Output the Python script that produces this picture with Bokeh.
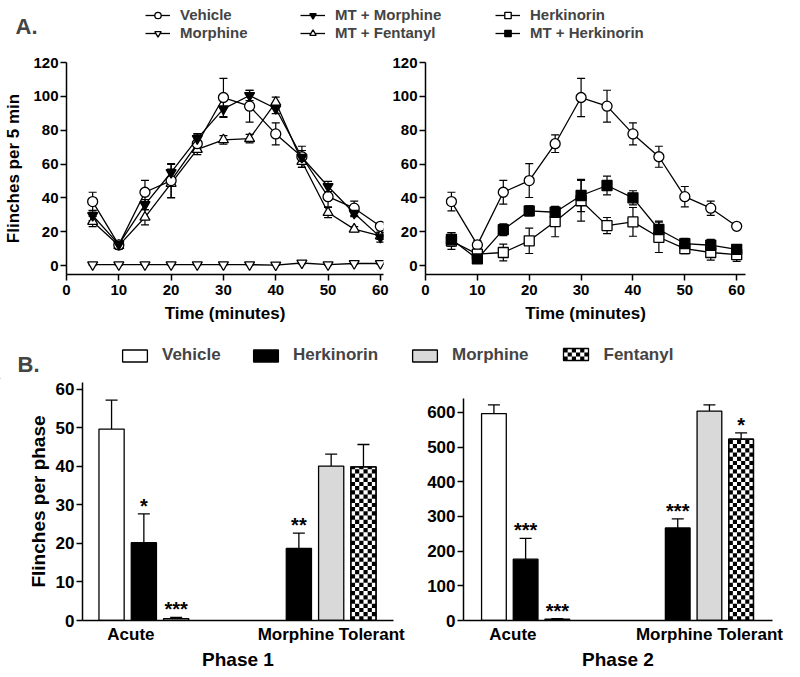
import math
from bokeh.plotting import figure
from bokeh.models import (Range1d, Legend, LegendItem, Label, Whisker, TeeHead,
                          ColumnDataSource, FixedTicker)
from bokeh.layouts import column, row
from bokeh.embed import file_html
from bokeh.resources import INLINE
from bokeh.core.properties import value

FONT = "Liberation Sans"

# ---------------- Panel A data (flinches per 5 min) ----------------
time_min = [5, 10, 15, 20, 25, 30, 35, 40, 45, 50, 55, 60]
vehicle = [37.8, 12.2, 43.3, 50.2, 72.0, 99.3, 94.2, 77.8, 64.3, 40.7, 33.9, 23.2]
vehicle_err = [5.5, 2.5, 7.0, 10.0, 5.2, 11.3, 9.4, 6.5, 6.2, 6.0, 4.2, 1.2]
morphine = [0.5, 0.5, 0.5, 0.5, 0.5, 0.5, 0.5, 0.3, 1.5, 0.5, 1.2, 1.2]
morphine_err = [0.3, 0.3, 0.3, 0.3, 0.3, 0.3, 0.3, 0.2, 0.5, 0.3, 0.4, 0.4]
mt_morphine = [29.6, 12.5, 36.0, 55.0, 75.0, 92.6, 100.5, 92.8, 64.0, 46.7, 30.9, 16.8]
mt_morphine_err = [3.0, 2.0, 3.0, 4.7, 3.0, 5.0, 3.0, 3.0, 4.0, 3.0, 2.0, 3.0]
mt_fentanyl = [26.0, 11.8, 28.5, 48.5, 68.6, 74.3, 75.0, 96.5, 61.5, 31.3, 21.5, 17.5]
mt_fentanyl_err = [3.0, 2.0, 4.5, 8.5, 3.0, 2.5, 2.5, 3.0, 3.5, 3.0, 1.5, 2.0]
herkinorin = [14.5, 6.7, 7.7, 14.6, 26.0, 38.3, 23.6, 25.8, 16.7, 10.0, 7.7, 6.5]
herkinorin_err = [5.0, 2.0, 5.0, 7.5, 9.0, 12.0, 4.8, 8.5, 9.0, 3.0, 4.5, 4.0]
mt_herkinorin = [15.5, 3.9, 21.2, 32.3, 31.5, 41.4, 47.3, 40.0, 21.3, 13.0, 12.0, 9.6]
mt_herkinorin_err = [4.0, 1.5, 3.5, 3.0, 3.0, 9.5, 5.5, 4.2, 5.0, 3.0, 3.5, 2.0]

# ---------------- Panel B data (flinches per phase) ----------------
bar_group = ["Acute", "Acute", "Acute", "Morphine Tolerant", "Morphine Tolerant", "Morphine Tolerant"]
bar_drug = ["Vehicle", "Herkinorin", "Morphine", "Herkinorin", "Morphine", "Fentanyl"]
phase1_mean = [49.7, 20.2, 0.5, 18.7, 40.1, 39.9]
phase1_sem = [7.5, 7.5, 0.3, 4.0, 3.1, 5.8]
phase1_sig = ["", "*", "***", "**", "", ""]
phase2_mean = [597, 177, 4, 267, 604, 523]
phase2_sem = [25, 60, 1, 26, 18, 18]
phase2_sig = ["", "***", "***", "***", "", "*"]

group_offset = {"Acute": 0.0, "Morphine Tolerant": 4.8}
drug_slot = {"Vehicle": 0, "Herkinorin": 1, "Morphine": 2, "Fentanyl": 3}
drug_fill = {"Vehicle": "white", "Herkinorin": "black", "Morphine": "#d9d9d9", "Fentanyl": "white"}

BAR_W = 0.78
CELL_PX = 4.2          # checkerboard cell size in pixels
B_FRAME_H = 238        # frame height of the B panels in pixels


def style_axes(p, tick_px, label_px, label_standoff=6):
    for ax in p.axis:
        ax.axis_line_width = 1.5
        ax.axis_line_color = "black"
        ax.major_tick_line_width = 1.5
        ax.major_tick_out = 6
        ax.major_tick_in = 0
        ax.minor_tick_line_color = None
        ax.major_label_text_font = FONT
        ax.major_label_text_font_style = "bold"
        ax.major_label_text_font_size = tick_px
        ax.major_label_text_color = "black"
        ax.major_label_standoff = 2
        ax.axis_label_text_font = FONT
        ax.axis_label_text_font_style = "bold"
        ax.axis_label_text_font_size = label_px
        ax.axis_label_text_color = "black"
        ax.axis_label_standoff = label_standoff
    p.grid.visible = False
    p.outline_line_color = None


def make_line_panel(width, height, borders, xmax, ylabel):
    p = figure(width=width, height=height, output_backend="svg", toolbar_location=None,
               x_range=Range1d(0, xmax), y_range=Range1d(-5.3, 120))
    p.min_border_left, p.min_border_right, p.min_border_top, p.min_border_bottom = borders
    p.xaxis.ticker = FixedTicker(ticks=[0, 10, 20, 30, 40, 50, 60])
    p.yaxis.ticker = FixedTicker(ticks=[0, 20, 40, 60, 80, 100, 120])
    p.xaxis.axis_label = "Time (minutes)"
    if ylabel:
        p.yaxis.axis_label = ylabel
    style_axes(p, "15px", "17px", 7)
    p.xaxis.major_label_standoff = 4
    p.xaxis.axis_label_standoff = 6
    return p


def add_series(p, y, err, marker, fill):
    src = ColumnDataSource(dict(x=time_min, y=y,
                                lo=[a - b for a, b in zip(y, err)],
                                hi=[a + b for a, b in zip(y, err)]))
    w = Whisker(source=src, base="x", lower="lo", upper="hi", level="underlay",
                line_color="black", line_width=1.2,
                upper_head=TeeHead(size=8, line_width=1.2, line_color="black"),
                lower_head=TeeHead(size=8, line_width=1.2, line_color="black"))
    p.add_layout(w)
    p.line("x", "y", source=src, line_color="black", line_width=1.3)
    p.scatter("x", "y", source=src, marker=marker, size=10, fill_color=fill,
              line_color="black", line_width=1.3)


def blank_fig(width, height):
    f = figure(width=width, height=height, output_backend="svg", toolbar_location=None,
               x_range=Range1d(0, width), y_range=Range1d(0, height),
               x_axis_location=None, y_axis_location=None)
    f.min_border_left = f.min_border_right = f.min_border_top = f.min_border_bottom = 0
    f.outline_line_color = None
    f.grid.visible = False
    f.xgrid.visible = False
    f.ygrid.visible = False
    return f


# ---------------- Legend A ----------------
legA = blank_fig(800, 48)
legA.add_layout(Label(x=26, y=22, text="A.", text_font=FONT, text_font_style="bold",
                      text_font_size="22px", text_align="center", text_baseline="middle"))


def dummy_line_item(p, label, marker, fill):
    l = p.line(x=[-100, -90], y=[-100, -100], line_color="black", line_width=1.3)
    s = p.scatter(x=[-100], y=[-100], marker=marker, size=10, fill_color=fill,
                  line_color="black", line_width=1.3)
    return LegendItem(label=label, renderers=[l, s])


series_specs = [
    [("Vehicle", "circle", "white"), ("Morphine", "inverted_triangle", "white")],
    [("MT + Morphine", "inverted_triangle", "black"), ("MT + Fentanyl", "triangle", "white")],
    [("Herkinorin", "square", "white"), ("MT + Herkinorin", "square", "black")],
]
legA_x = [145, 300, 495]
for specs, lx in zip(series_specs, legA_x):
    items = [dummy_line_item(legA, *s) for s in specs]
    lg = Legend(items=items, location=(lx, 7), orientation="vertical",
                glyph_width=25, glyph_height=16, label_height=16, spacing=1,
                label_standoff=10, padding=0, margin=0,
                border_line_color=None, background_fill_alpha=0,
                label_text_font=FONT, label_text_font_style="bold", label_text_font_size="15px")
    legA.add_layout(lg)

# ---------------- Panels A ----------------
pA1 = make_line_panel(389, 282, (66, 6, 14, 56), 60.6, "Flinches per 5 min")
add_series(pA1, morphine, morphine_err, "inverted_triangle", "white")
add_series(pA1, mt_fentanyl, mt_fentanyl_err, "triangle", "white")
add_series(pA1, vehicle, vehicle_err, "circle", "white")
add_series(pA1, mt_morphine, mt_morphine_err, "inverted_triangle", "black")

pA2 = make_line_panel(411, 282, (34, 55, 14, 56), 61.7, None)
add_series(pA2, vehicle, vehicle_err, "circle", "white")
add_series(pA2, herkinorin, herkinorin_err, "square", "white")
add_series(pA2, mt_herkinorin, mt_herkinorin_err, "square", "black")

# ---------------- Legend B ----------------
legB = blank_fig(800, 49)
legB.add_layout(Label(x=28, y=15, text="B.", text_font=FONT, text_font_style="bold",
                      text_font_size="22px", text_align="center", text_baseline="middle"))
legB_x = {"Vehicle": 119, "Herkinorin": 250, "Morphine": 409}
for drug in ["Vehicle", "Herkinorin", "Morphine"]:
    r = legB.vbar(x=[-100], top=[-100], bottom=[-110], width=1, fill_color=drug_fill[drug],
                  line_color="black", line_width=1.3)
    lg = Legend(items=[LegendItem(label=drug, renderers=[r])], location=(legB_x[drug], 14),
                glyph_width=31, glyph_height=15, label_height=16, label_standoff=12,
                padding=0, margin=0, border_line_color=None, background_fill_alpha=0,
                label_text_font=FONT, label_text_font_style="bold", label_text_font_size="17px")
    legB.add_layout(lg)

# Fentanyl key: white box with checkerboard cells
fk_left, fk_right, fk_bottom, fk_top = 563, 588, 19, 31
fk_cols, fk_rows = 6, 3
cw = (fk_right - fk_left) / fk_cols
ch = (fk_top - fk_bottom) / fk_rows
legB.quad(left=[fk_left], right=[fk_right], bottom=[fk_bottom], top=[fk_top],
          fill_color="white", line_color=None)
cells = dict(l=[], r=[], b=[], t=[])
for rr in range(fk_rows):
    for cc in range(fk_cols):
        if (rr + cc) % 2 == 0:
            cells["l"].append(fk_left + cc * cw)
            cells["r"].append(fk_left + (cc + 1) * cw)
            cells["b"].append(fk_bottom + rr * ch)
            cells["t"].append(fk_bottom + (rr + 1) * ch)
legB.quad(left="l", right="r", bottom="b", top="t", source=ColumnDataSource(cells),
          fill_color="black", line_color=None)
legB.quad(left=[fk_left], right=[fk_right], bottom=[fk_bottom], top=[fk_top],
          fill_alpha=0, line_color="black", line_width=1.3)
legB.add_layout(Label(x=603, y=25, text="Fentanyl", text_font=FONT, text_font_style="bold",
                      text_font_size="17px", text_align="left", text_baseline="middle"))


# ---------------- Panels B ----------------
def make_bar_panel(width, height, borders, xr, ymax, ybound, yticks, mean, sem, sig, ylabel, xlabel):
    p = figure(width=width, height=height, output_backend="svg", toolbar_location=None,
               x_range=Range1d(*xr), y_range=Range1d(0, ymax))
    p.min_border_left, p.min_border_right, p.min_border_top, p.min_border_bottom = borders
    xs = [group_offset[g] + drug_slot[d] for g, d in zip(bar_group, bar_drug)]
    fills = [drug_fill[d] for d in bar_drug]
    tops = [m + s for m, s in zip(mean, sem)]
    data = dict(x=xs, top=mean, hi=tops, fill=fills, sig=sig)
    src = ColumnDataSource(data)
    p.add_layout(Whisker(source=src, base="x", lower="top", upper="hi", level="underlay",
                         line_color="black", line_width=1.3, lower_head=None,
                         upper_head=TeeHead(size=12, line_width=1.3, line_color="black")))
    p.vbar(x="x", top="top", width=BAR_W, fill_color="fill", line_color="black",
           line_width=1.3, source=src)
    # checkerboard for the fentanyl bars
    cell_h = CELL_PX * ymax / B_FRAME_H
    ncols = 6
    cell_w = BAR_W / ncols
    cells = dict(l=[], r=[], b=[], t=[])
    for x, t, d in zip(xs, mean, bar_drug):
        if d != "Fentanyl":
            continue
        left = x - BAR_W / 2
        nrows = math.ceil(t / cell_h)
        for rr in range(nrows):
            for cc in range(ncols):
                if (rr + cc) % 2 == 0:
                    cells["l"].append(left + cc * cell_w)
                    cells["r"].append(left + (cc + 1) * cell_w)
                    cells["b"].append(rr * cell_h)
                    cells["t"].append(min((rr + 1) * cell_h, t))
    p.quad(left="l", right="r", bottom="b", top="t", source=ColumnDataSource(cells),
           fill_color="black", line_color=None)
    fent_idx = [i for i, d in enumerate(bar_drug) if d == "Fentanyl"]
    p.vbar(x=[xs[i] for i in fent_idx], top=[mean[i] for i in fent_idx], width=BAR_W,
           fill_alpha=0, line_color="black", line_width=1.3)
    p.text(x="x", y="hi", text="sig", source=src, text_align="center",
           text_baseline="alphabetic", text_font=value(FONT), text_font_style="bold",
           text_font_size="20px", y_offset=-8, text_color="black")
    p.xaxis.ticker = FixedTicker(ticks=[0.6, 6.8])
    p.xaxis.major_label_overrides = {0.6: "Acute", 6.8: "Morphine Tolerant"}
    p.yaxis.ticker = FixedTicker(ticks=yticks)
    p.yaxis.bounds = (0, ybound)
    if ylabel:
        p.yaxis.axis_label = ylabel
    p.xaxis.axis_label = xlabel
    style_axes(p, "17px", "19px", 4)
    p.xaxis.major_tick_out = 0
    p.xaxis.major_label_standoff = 4
    p.xaxis.axis_label_standoff = 2
    return p


pB1 = make_bar_panel(415, 298, (82, 22, 3, 57), (-0.9, 8.73), 61.8, 61.8,
                     [0, 10, 20, 30, 40, 50, 60], phase1_mean, phase1_sem, phase1_sig,
                     "Flinches per phase", "Phase 1")
pB2 = make_bar_panel(385, 298, (48, 28, 3, 57), (-0.96, 8.79), 686.5, 640,
                     [0, 100, 200, 300, 400, 500, 600], phase2_mean, phase2_sem, phase2_sig,
                     None, "Phase 2")

layout = column(legA, row(pA1, pA2), legB, row(pB1, pB2))
open("out.html", "w").write(file_html(layout, INLINE))
